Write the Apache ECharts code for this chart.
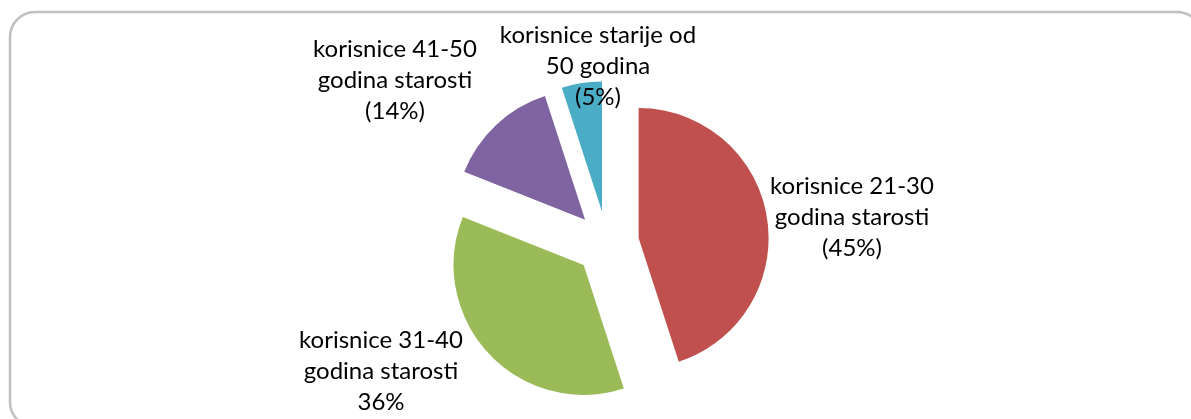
<!DOCTYPE html>
<html>
<head>
<meta charset="utf-8">
<script src="https://cdn.jsdelivr.net/npm/echarts@6/dist/echarts.min.js"></script>
<style>
html, body { margin: 0; padding: 0; background: #fff; }
#container { width: 1191px; height: 419px; }
</style>
</head>
<body>
<div id="container"></div>
<script>
var categories = [
    'korisnice 21-30\ngodina starosti',
    'korisnice 31-40\ngodina starosti',
    'korisnice 41-50\ngodina starosti',
    'korisnice starije od\n50 godina'
];
var values = [45, 36, 14, 5];
var percentLabels = ['(45%)', '36%', '(14%)', '(5%)'];
var colors = ['#C0504D', '#9BBB59', '#8064A2', '#4BACC6'];

var dom = document.getElementById('container');
var myChart = echarts.init(dom);

var sliceData = [];
var labelData = [];
for (var i = 0; i < values.length; i++) {
    sliceData.push({
        name: categories[i],
        value: values[i],
        selected: true,
        itemStyle: { color: colors[i] }
    });
    labelData.push({ name: categories[i], value: values[i] });
}

// label block centres (select state of the pie overrides labelLayout,
// so the text comes from a second, transparent pie)
var labelPos = [[852, 217], [381, 371], [395, 80], [598, 66]];

var option = {
    animation: false,
    graphic: [{
        type: 'rect',
        shape: { x: 10, y: 12, width: 1192, height: 415, r: 25 },
        style: { fill: 'none', stroke: '#BFBFBF', lineWidth: 2.5 },
        silent: true
    }],
    series: [{
        type: 'pie',
        center: [607, 243],
        radius: [0, 130],
        startAngle: 90,
        clockwise: true,
        selectedMode: 'multiple',
        selectedOffset: 32,
        label: { show: false },
        labelLine: { show: false },
        emphasis: { disabled: true },
        data: sliceData
    }, {
        type: 'pie',
        center: [607, 243],
        radius: [0, 130],
        startAngle: 90,
        clockwise: true,
        silent: true,
        selectedMode: false,
        avoidLabelOverlap: false,
        itemStyle: { color: 'rgba(0,0,0,0)' },
        label: {
            show: true,
            position: 'outside',
            fontFamily: 'Lato',
            fontSize: 24,
            lineHeight: 31,
            color: '#000',
            align: 'center',
            formatter: function (p) {
                return p.name + '\n' + percentLabels[p.dataIndex];
            }
        },
        labelLine: { show: false },
        labelLayout: function (params) {
            var pos = labelPos[params.dataIndex];
            return {
                x: pos[0],
                y: pos[1],
                align: 'center',
                verticalAlign: 'middle'
            };
        },
        emphasis: { disabled: true },
        data: labelData
    }]
};

myChart.setOption(option);
</script>
</body>
</html>
